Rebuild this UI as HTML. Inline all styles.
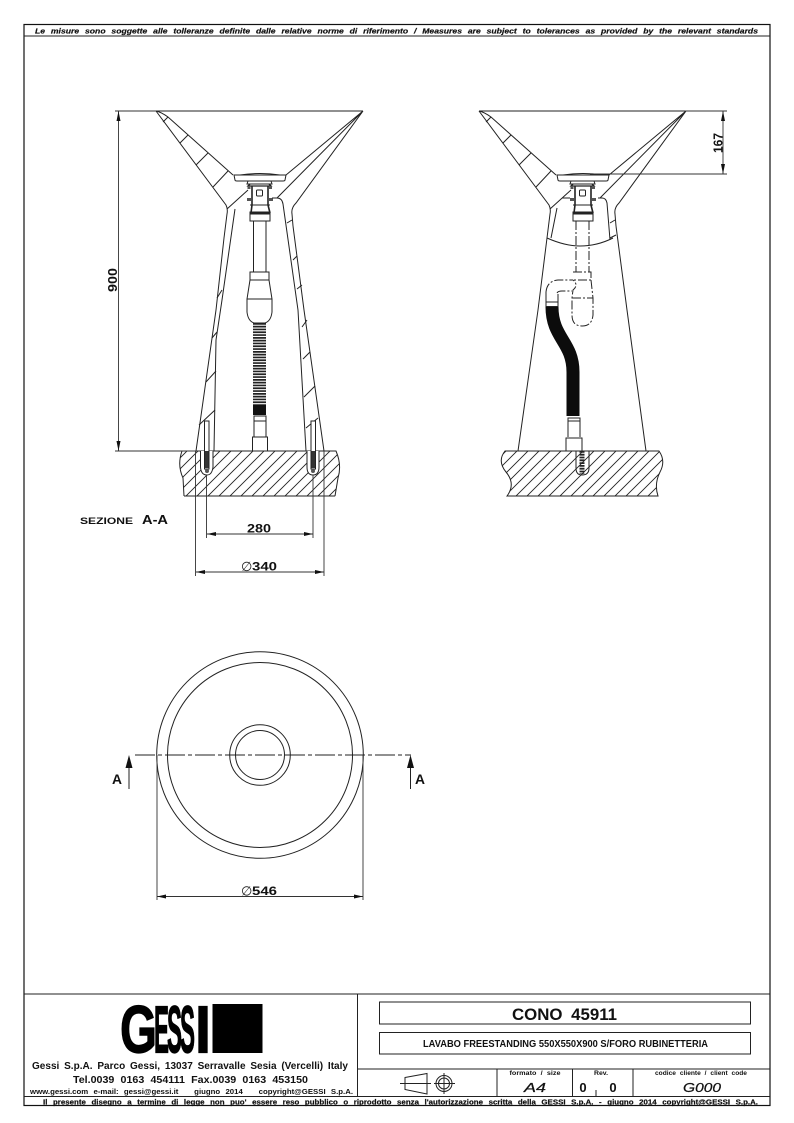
<!DOCTYPE html>
<html><head><meta charset="utf-8"><title>CONO 45911</title>
<style>
html,body{margin:0;padding:0;background:#fff}
svg{display:block}
text{font-family:"Liberation Sans",sans-serif;fill:#111}
.l{fill:none;stroke:#222;stroke-width:1}
.t{fill:none;stroke:#333;stroke-width:.9}
.b{font-weight:bold}
.dd{fill:none;stroke:#222;stroke-width:1;stroke-dasharray:9 2 2 2}
.phi{font-family:"DejaVu Sans",sans-serif;font-size:13px;fill:#222}
.sm{stroke:#111;stroke-width:.2}
</style></head><body>
<svg width="794" height="1123" viewBox="0 0 794 1123" xmlns="http://www.w3.org/2000/svg">
<defs>
<pattern id="h" width="11" height="11" patternUnits="userSpaceOnUse"><path d="M0 11L11 0M-1 1L1 -1M10 12L12 10" stroke="#222" stroke-width=".9"/></pattern>
<g id="basin" class="l">
<path d="M156 111H363"/>
<path d="M156 111L226 205Q228 209 227 214L224 238"/>
<path d="M156 111Q161 112 168 117L233 175"/>
<path d="M363 111L286 175M363 111L277 198M363 111L296 203Q291 208 292 214L293 226"/>
<path d="M227 209L248 190"/>
<path d="M163 122L168 117M180 143L188 135M196 165L208 153M213 187L228 171"/>
<path d="M234 175H286L285 180Q285 181 283 181H237Q235 181 235 180Z"/>
<path d="M240 175Q260 172 280 175"/>
<path d="M248 181L247 184H272L271 181"/>
<path d="M250 184L248 186H271L269 184" stroke-width="1.300"/>
<path d="M252 186V205L251 213M268 186V205L270 213" stroke-width="1.600"/>
<path d="M250 205H270M250 213H270V221H250Z"/>
<rect x="250" y="212" width="20" height="2" fill="#222"/>
<rect x="256.500" y="190" width="6" height="6" rx="1" />
<rect x="247" y="198" width="4" height="3" fill="#555" stroke="none"/>
<rect x="269" y="198" width="4" height="3" fill="#555" stroke="none"/>
<rect x="247.500" y="186" width="3" height="3" fill="#555" stroke="none"/>
<rect x="269" y="186" width="3" height="3" fill="#555" stroke="none"/>
</g>
<clipPath id="f1"><path d="M182 451H336Q342 465 338 478L335 496H184L183 478Q177 465 182 451Z"/></clipPath>
<clipPath id="f2"><path d="M505 451H659Q666 461 660 472Q654 484 658 496H507Q516 484 506 472Q497 461 505 451Z"/></clipPath>
</defs>

<!-- frame -->
<rect x="24" y="24.500" width="746" height="1081" fill="none" stroke="#111" stroke-width="1.200"/>
<path d="M24 36H770" stroke="#222" stroke-width="1"/>
<text x="35" y="33.500" class="b sm" font-size="7.500" font-style="italic" textLength="723" lengthAdjust="spacingAndGlyphs" style="word-spacing:3px">Le misure sono soggette alle tolleranze definite dalle relative norme di riferimento / Measures are subject to tolerances as provided by the relevant standards</text>

<!-- LEFT SECTION -->
<use href="#basin"/>
<g class="l">
<path d="M224 238L216 310L196 451"/>
<path d="M293 226L304 310L324 451"/>
<path d="M235 209L222 300L216 340L214 451"/>
<path d="M272 198H277Q282 198 283 204L298 310L306 451"/>
<path d="M217 298L222 290M212 338L217 332M206 382L216 371M199 425L215 410"/>
<path d="M287 223L292 220M293 260L297 256M297 289L302 285M302 327L307 320M303 359L310 352M304 397L315 386M306 428L318 418"/>
<path d="M253.500 221V272M266 221V272"/>
<path d="M250 272H269V280H250ZM250 280L247 299V312Q248 321 254 323H265Q271 321 272 312V299L269 280M247 299H272"/>
</g>
<path d="M259.500 323V405" stroke="#222" stroke-width="13" stroke-dasharray="1.700 1.100" fill="none"/>
<path d="M259.500 405V415" stroke="#111" stroke-width="13" fill="none"/>
<g class="l">
<path d="M254 416H266V421H254ZM254 421V437M266 421V437"/>
<rect x="252.500" y="437" width="15" height="14"/>
</g>
<!-- left floor -->
<g clip-path="url(#f1)"><rect x="170" y="445" width="180" height="55" fill="url(#h)"/></g>
<path class="l" stroke-width="1.200" d="M182 451H336Q342 465 338 478L335 496M184 496L183 478Q177 465 182 451M184 496H335"/>
<g class="l">
<path d="M200.500 451V467Q201 475 207 475Q212 475 213 467V451" fill="#fff"/>
<path d="M307 451V467Q307 475 313 475Q319 475 319 467V451" fill="#fff"/>
<rect x="204.500" y="421" width="4.500" height="48" fill="#fff"/>
<rect x="311" y="421" width="4.500" height="48" fill="#fff"/>
</g>
<rect x="205" y="451" width="3.500" height="17" fill="#333"/><rect x="311.500" y="451" width="3.500" height="17" fill="#333"/>
<circle cx="207" cy="471" r="2" fill="#555"/><circle cx="313" cy="471" r="2" fill="#555"/>

<!-- left dims -->
<g class="t">
<path d="M115 111H156M115 451H196M118.500 111V451"/>
<path d="M206.500 475V538M313 475V538M207 534H313"/>
<path d="M195.500 451V576M324 451V576M196 572H324"/>
</g>
<g fill="#111">
<path d="M118.500 111L116.500 121H120.500ZM118.500 451L116.500 441H120.500Z"/>
<path d="M207 534L216 532V536ZM313 534L304 532V536Z"/>
<path d="M196 572L205 570V574ZM324 572L315 570V574Z"/>
</g>
<text transform="translate(117,292) rotate(-90)" class="b" font-size="12.500" textLength="24" lengthAdjust="spacingAndGlyphs">900</text>
<text x="247" y="532.500" class="b" font-size="12" textLength="24" lengthAdjust="spacingAndGlyphs">280</text>
<text x="241" y="571" class="phi">∅</text>
<text x="252" y="570.500" class="b" font-size="12" textLength="25" lengthAdjust="spacingAndGlyphs">340</text>
<text x="80" y="524" class="b" font-size="9.500" textLength="53" lengthAdjust="spacingAndGlyphs">SEZIONE</text>
<text x="142" y="524" class="b" font-size="13" textLength="26" lengthAdjust="spacingAndGlyphs">A-A</text>

<!-- RIGHT VIEW -->
<use href="#basin" x="323"/>
<g class="l">
<path d="M547 238L538 310L518 451"/>
<path d="M616 226L627 310L646 451"/>
<path d="M557 208L551 238M562 198H570M598 198H602Q606 198 607 203L610 240"/>
<path d="M547 238Q565 246 580 246Q597 246 613 238"/>
<path d="M610 223L615 220M610 238L616 235" />
</g>
<g class="dd">
<path d="M576 221V272M589 221V272"/>
<path d="M573 272H591V280H573M591 280L593 298V315Q592 326 582 326Q572 326 572 315V298L573 290Q579 285 573 280"/>
<path d="M572 298H593"/>
<path d="M546 292Q547 281 558 280H573M557 293Q558 291 562 291H572"/>
</g>
<path class="l" d="M546 292V302M558 294V302"/>
<rect x="546" y="302" width="12" height="4.500" class="l"/>
<path d="M552 307C552 338 573 342 573 372V416" fill="none" stroke="#0c0c0c" stroke-width="13"/>
<g class="l">
<rect x="568" y="418" width="12" height="3"/>
<path d="M568 421V437M580 421V437"/>
<rect x="566" y="438" width="16" height="13"/>
</g>
<g clip-path="url(#f2)"><rect x="495" y="445" width="175" height="55" fill="url(#h)"/></g>
<path class="l" stroke-width="1.200" d="M505 451H659Q666 461 660 472Q654 484 658 496H507Q516 484 506 472Q497 461 505 451Z"/>
<path class="l" fill="#fff" d="M576 451V468Q576 475 582 475Q589 475 589 468V451"/>
<path d="M582 451V474" stroke="#222" stroke-width="5" stroke-dasharray="1.800 1" fill="none"/>
<g class="t">
<path d="M685 111H727M590 174H727M723 111V174"/>
</g>
<path fill="#111" d="M723 111L721 121H725ZM723 174L721 164H725Z"/>
<text transform="translate(722.500,153) rotate(-90)" class="b" font-size="13" textLength="20" lengthAdjust="spacingAndGlyphs">167</text>

<!-- PLAN -->
<g class="l">
<circle cx="260" cy="755" r="103.300"/>
<circle cx="260" cy="755" r="92.500"/>
<circle cx="260" cy="755" r="30.300"/>
<circle cx="260" cy="755" r="24.500"/>
<path d="M135 755H411" stroke-dasharray="20 3 4 3"/>
<path d="M129 760V789M410.500 760V789"/>
</g>
<path fill="#111" d="M129 755L125.500 768H132.500ZM410.500 755L407 768H414Z"/>
<text x="112" y="784" class="b" font-size="13.500" textLength="10" lengthAdjust="spacingAndGlyphs">A</text>
<text x="415" y="784" class="b" font-size="13.500" textLength="10" lengthAdjust="spacingAndGlyphs">A</text>
<g class="t"><path d="M157 755V900M363 755V900M157 896.500H363"/></g>
<path fill="#111" d="M157 896.500L166 894.500V898.500ZM363 896.500L354 894.500V898.500Z"/>
<text x="241" y="895.500" class="phi">∅</text>
<text x="252" y="895" class="b" font-size="12" textLength="25" lengthAdjust="spacingAndGlyphs">546</text>

<!-- TITLE BLOCK -->
<g stroke="#222" stroke-width="1" fill="none">
<path d="M24 994H770M24 1096.500H770M357.500 994V1096.500M357.500 1069H770M497 1069V1096.500M572.500 1069V1096.500M633 1069V1096.500M596 1090V1096.500"/>
<rect x="379.500" y="1002" width="371" height="22"/>
<rect x="379.500" y="1032.500" width="371" height="21.500"/>
</g>
<!-- logo -->
<rect x="212.500" y="1004" width="50" height="49" fill="#000"/>
<g class="b" font-size="67" style="fill:#000;stroke:#000;stroke-width:1.200">
<text x="120" y="1052.500" textLength="37" lengthAdjust="spacingAndGlyphs" style="fill:#000">G</text>
<text x="154" y="1052.500" textLength="15" lengthAdjust="spacingAndGlyphs" style="fill:#000">E</text>
<text x="167" y="1052.500" textLength="15" lengthAdjust="spacingAndGlyphs" style="fill:#000">S</text>
<text x="180" y="1052.500" textLength="15" lengthAdjust="spacingAndGlyphs" style="fill:#000">S</text>
<text x="195" y="1052.500" textLength="16" lengthAdjust="spacingAndGlyphs" style="fill:#000">I</text>
</g>
<text x="32" y="1069" font-size="10" font-weight="bold" textLength="316" lengthAdjust="spacingAndGlyphs" style="word-spacing:2px">Gessi S.p.A. Parco Gessi, 13037 Serravalle Sesia (Vercelli) Italy</text>
<text x="73" y="1083" font-size="10" font-weight="bold" textLength="235" lengthAdjust="spacingAndGlyphs" style="word-spacing:3px">Tel.0039 0163 454111 Fax.0039 0163 453150</text>
<text x="30" y="1094" font-size="7.500" class="b" textLength="323" lengthAdjust="spacingAndGlyphs" style="word-spacing:3px">www.gessi.com e-mail: gessi@gessi.it &#160; giugno 2014 &#160; copyright@GESSI S.p.A.</text>
<text x="43" y="1104.500" font-size="7" class="b sm" textLength="715" lengthAdjust="spacingAndGlyphs" style="word-spacing:3px">Il presente disegno a termine di legge non puo' essere reso pubblico o riprodotto senza l'autorizzazione scritta della GESSI S.p.A. - giugno 2014 copyright@GESSI S.p.A.</text>

<text x="512" y="1020" font-size="17" font-weight="bold" textLength="105" lengthAdjust="spacingAndGlyphs" style="word-spacing:4px">CONO 45911</text>
<text x="423" y="1047" font-size="10" font-weight="bold" textLength="285" lengthAdjust="spacingAndGlyphs">LAVABO FREESTANDING 550X550X900 S/FORO RUBINETTERIA</text>

<g class="l" stroke-width=".9">
<path d="M405 1077.500L427 1073.500V1094L405 1089.500ZM400 1083.500H431"/>
<circle cx="444" cy="1083.500" r="8"/><circle cx="444" cy="1083.500" r="5.500"/>
<path d="M434 1083.500H455M444 1073V1094"/>
</g>
<text x="535" y="1075" text-anchor="middle" font-size="6.500" class="b" textLength="51" lengthAdjust="spacingAndGlyphs" style="word-spacing:2px">formato / size</text>
<text x="535" y="1092" text-anchor="middle" font-size="13" font-style="italic" class="sm" textLength="22" lengthAdjust="spacingAndGlyphs">A4</text>
<text x="601" y="1075" text-anchor="middle" font-size="6.500" class="b" textLength="14" lengthAdjust="spacingAndGlyphs">Rev.</text>
<text x="583" y="1092" text-anchor="middle" font-size="13" class="b">0</text>
<text x="613" y="1092" text-anchor="middle" font-size="13" class="b">0</text>
<text x="701" y="1075" text-anchor="middle" font-size="6.500" class="b" textLength="92" lengthAdjust="spacingAndGlyphs" style="word-spacing:2px">codice cliente / client code</text>
<text x="702" y="1092" text-anchor="middle" font-size="13" font-style="italic" class="sm" textLength="38" lengthAdjust="spacingAndGlyphs">G000</text>
</svg>
</body></html>
